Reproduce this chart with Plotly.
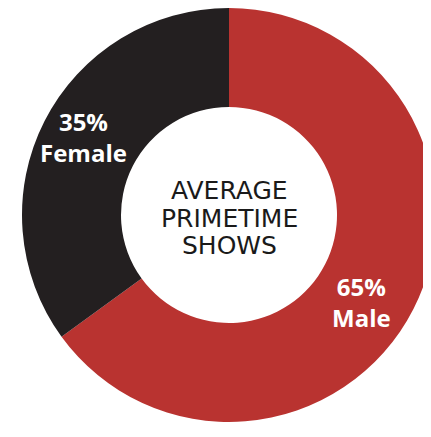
import plotly.graph_objects as go

# Data
labels = ["Male", "Female"]
values = [65, 35]
colors = ["#B93330", "#231F20"]
center_lines = ["AVERAGE", "PRIMETIME", "SHOWS"]

W, H = 431, 437
R_OUT, R_IN = 207, 108
# pixel centre of donut inside the figure (page has an 8px body margin)
CX, CY = 221, 207


def px(x):
    return x / W


def py(y):
    return 1 - y / H


fig = go.Figure(
    go.Pie(
        labels=labels,
        values=values,
        hole=R_IN / R_OUT,
        sort=False,
        direction="clockwise",
        rotation=0,
        marker=dict(colors=colors, line=dict(width=0)),
        textinfo="none",
        hoverinfo="label+percent",
        showlegend=False,
        domain=dict(x=[px(CX - R_OUT), px(CX + R_OUT)],
                    y=[max(0, py(CY + R_OUT)), min(1, py(CY - R_OUT))]),
    )
)

annotations = []
# Slice labels
label_pos = {"Male": (353, 294), "Female": (75, 129)}
total = sum(values)
for lab, val in zip(labels, values):
    x, y = label_pos[lab]
    annotations.append(dict(
        x=px(x), y=py(y), xref="paper", yref="paper",
        text=f"{round(100 * val / total)}%<br>{lab}",
        showarrow=False, xanchor="center", yanchor="middle",
        font=dict(family="Open Sans", size=24, color="white", weight="bold"),
    ))

# Centre text
for i, line in enumerate(center_lines):
    annotations.append(dict(
        x=px(CX), y=py(182.5 + 27.5 * i), xref="paper", yref="paper",
        text=line, showarrow=False, xanchor="center", yanchor="middle",
        font=dict(family="DejaVu Sans", size=25, color="#1a1a1a"),
    ))

fig.update_layout(
    width=W, height=H,
    margin=dict(l=0, r=0, t=0, b=0),
    paper_bgcolor="white",
    plot_bgcolor="white",
    annotations=annotations,
)

fig.write_html("out.html")
